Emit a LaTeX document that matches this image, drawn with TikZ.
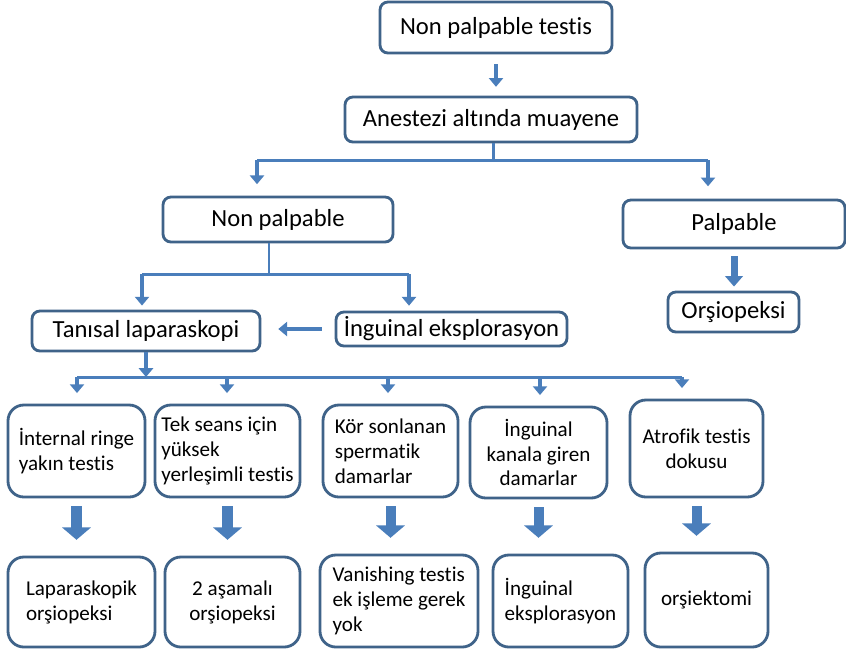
\documentclass[tikz,border=0pt]{standalone}
\usepackage{fontspec}
\setmainfont{Carlito}[Ligatures=CommonOff]
\usetikzlibrary{arrows.meta}
\definecolor{boxline}{HTML}{3F6389}
\definecolor{linkblue}{HTML}{4A7EBB}

\begin{document}
\begin{tikzpicture}[x=0.2mm,y=-0.2mm,
    main node/.style={draw=boxline,line width=1.6pt,fill=white,rounded corners=4.5pt,font=\fontsize{14}{17}\selectfont,inner sep=2pt},
    row node/.style={draw=boxline,line width=1.6pt,fill=white,rounded corners=9pt,font=\fontsize{12}{14.2}\selectfont,inner sep=2pt},
    bus/.style={draw=linkblue,line width=1.7pt},
    drop/.style={draw=linkblue,line width=2.8pt,-{Triangle[width=8pt,length=5pt]}},
    fat drop/.style={draw=linkblue,line width=4pt,-{Triangle[width=10pt,length=6pt]}},
    big arrow/.style={draw=linkblue,line width=5.7pt,-{Triangle[width=16pt,length=7pt]},shorten <=4.5pt,shorten >=9pt}]

    \fill[white] (0,0) rectangle (846,654);
    \useasboundingbox (0,0) rectangle (846,654);

    \node[main node,minimum width=46.4mm,minimum height=10.2mm] (top) at (496,27.5) {Non palpable testis};
    \node[main node,minimum width=58.4mm,minimum height=9mm] (exam) at (491,119.5) {Anestezi altında muayene};
    \node[main node,minimum width=46mm,minimum height=9mm] (nonpal) at (278,219.5) {Non palpable};
    \node[main node,minimum width=44.4mm,minimum height=9.6mm] (pal) at (734,224) {Palpable};
    \node[main node,minimum width=26.2mm,minimum height=8mm] (orsi) at (733.5,312) {Orşiopeksi};
    \node[main node,minimum width=45.6mm,minimum height=8mm] (lap) at (146,331) {Tanısal laparaskopi};
    \node[main node,minimum width=46.2mm,minimum height=6.8mm] (explo) at (451.5,329) {İnguinal eksplorasyon};

    \node[row node,align=left,minimum width=27.4mm,minimum height=18.4mm] (ring) at (76.5,451) {İnternal ringe\\yakın testis};
    \node[row node,align=left,minimum width=29mm,minimum height=18.4mm] (high) at (227.5,451) {Tek seans için\\yüksek\\yerleşimli testis};
    \node[row node,align=left,minimum width=27mm,minimum height=18.4mm] (blind) at (390.5,451) {Kör sonlanan\\spermatik\\damarlar};
    \node[row node,align=center,minimum width=27.4mm,minimum height=18.2mm] (canal) at (538.5,452.5) {İnguinal\\kanala giren\\damarlar};
    \node[row node,align=center,minimum width=26.6mm,minimum height=19.4mm] (atro) at (696.5,448.5) {Atrofik testis\\dokusu};

    \node[row node,align=left,minimum width=29.4mm,minimum height=18mm] (lapor) at (81.5,602) {Laparaskopik\\orşiopeksi};
    \node[row node,align=center,minimum width=27mm,minimum height=18mm] (stage) at (232.5,602) {2 aşamalı\\orşiopeksi};
    \node[row node,align=left,minimum width=31.6mm,minimum height=18.4mm] (vanish) at (399,601) {Vanishing testis\\ek işleme gerek\\yok};
    \node[row node,align=left,minimum width=27mm,minimum height=18.4mm] (reexplo) at (560.5,601) {İnguinal\\eksplorasyon};
    \node[row node,align=center,minimum width=24.6mm,minimum height=18.8mm] (orchi) at (706.5,600) {orşiektomi};

    % upper branching
    \draw[drop,shorten <=5.7pt,shorten >=5pt] (top.south) -- (top.south |- exam.north);

    \coordinate (examsplit) at (493,160);
    \coordinate (leftdrop) at (257,160);
    \coordinate (rightdrop) at (708,160);
    \draw[bus] (exam.south -| examsplit) -- (examsplit);
    \draw[bus] (leftdrop) -- (rightdrop);
    \draw[drop,shorten >=6.5pt] (leftdrop) -- (leftdrop |- nonpal.north);
    \draw[drop,shorten >=7pt] (rightdrop) -- (rightdrop |- pal.north);
    \draw[fat drop,shorten <=4pt,shorten >=2.3pt] (pal.south) -- (pal.south |- orsi.north);

    \coordinate (npsplit) at (269,274);
    \coordinate (lapdrop) at (142,274);
    \coordinate (explodrop) at (409,274);
    \draw[bus] (nonpal.south -| npsplit) -- (npsplit);
    \draw[bus] (lapdrop) -- (explodrop);
    \draw[drop,shorten >=2.3pt] (lapdrop) -- (lapdrop |- lap.north);
    \draw[drop,shorten >=2.8pt] (explodrop) -- (explodrop |- explo.north);
    \draw[drop,shorten <=7.4pt,shorten >=9.6pt] (explo.west) -- (explo.west -| lap.east);

    % findings of laparoscopy
    \coordinate (rowbusL) at (77,377);
    \coordinate (rowbusR) at (682,377);
    \draw[bus] (rowbusL) -- (rowbusR);
    \draw[drop] (lap.south) -- (lap.south |- rowbusL);
    \foreach \n/\x in {ring/77,high/227,blind/388,canal/540,atro/682}
    {
        \coordinate (rowdrop) at (\x,377);
        \draw[drop,shorten >=6pt] (rowdrop) -- (rowdrop |- \n.north);
    }

    \foreach \a/\b in {ring/lapor,high/stage,blind/vanish,canal/reexplo,atro/orchi}
        \draw[big arrow] (\a.south) -- (\a.south |- \b.north);

\end{tikzpicture}
\end{document}
